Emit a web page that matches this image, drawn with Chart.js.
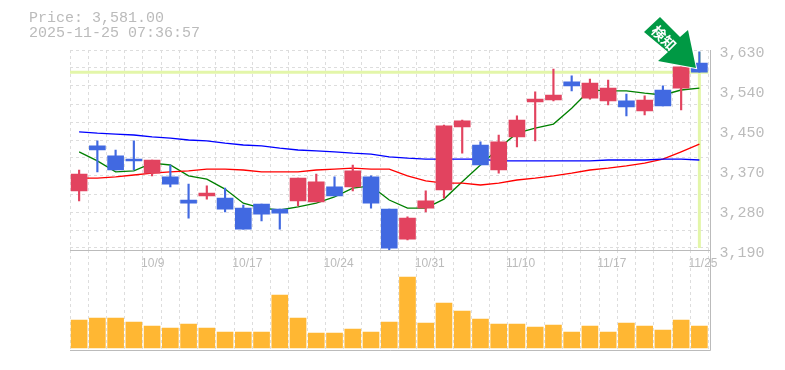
<!DOCTYPE html>
<html>
<head>
<meta charset="utf-8">
<script src="https://cdn.jsdelivr.net/npm/chart.js@4"></script>
<style>
  html, body { margin: 0; background: #fff; }
  #wrap { position: relative; width: 785px; height: 370px; overflow: hidden; }
  #volChart { position: absolute; left: 0; top: 250px; }
  #priceChart { position: absolute; left: 0; top: 0; }
</style>
</head>
<body>
<div id="wrap">
  <canvas id="volChart" width="785" height="101"></canvas>
  <canvas id="priceChart" width="785" height="270"></canvas>
</div>
<script>
// dates of the 35 sessions
const dates = ['10/3','10/6','10/7','10/8','10/9','10/10','10/14','10/15','10/16','10/17','10/20','10/21','10/22','10/23','10/24','10/27','10/28','10/29','10/30','10/31','11/4','11/5','11/6','11/7','11/10','11/11','11/12','11/13','11/14','11/17','11/18','11/19','11/20','11/21','11/25'];
const shownDates = ['10/9','10/17','10/24','10/31','11/10','11/17','11/25'];

// candles
const opens  = [3320,3419,3397,3390,3359,3351,3300,3309,3304,3282,3291,3280,3298,3296,3329,3329,3351,3280,3214,3282,3322,3461,3421,3366,3439,3516,3520,3560,3524,3518,3518,3496,3542,3546,3601];
const closes = [3357,3410,3366,3386,3388,3335,3293,3315,3280,3236,3269,3271,3348,3340,3309,3364,3293,3194,3260,3298,3463,3474,3377,3428,3476,3522,3531,3551,3557,3546,3505,3520,3507,3593,3581];
const highs  = [3366,3430,3410,3430,3388,3377,3335,3331,3326,3289,3291,3280,3348,3357,3351,3377,3353,3280,3263,3320,3465,3476,3428,3443,3485,3538,3588,3573,3566,3564,3533,3529,3551,3593,3626];
const lows   = [3298,3362,3366,3366,3353,3329,3260,3302,3274,3236,3254,3236,3287,3296,3309,3320,3282,3190,3212,3274,3304,3403,3377,3359,3417,3430,3518,3540,3522,3509,3485,3487,3507,3498,3581];

// moving averages
const maShort = [3406,3386,3362,3364,3381,3377,3353,3346,3324,3293,3282,3278,3285,3293,3307,3326,3331,3300,3282,3282,3302,3340,3377,3414,3447,3458,3467,3502,3542,3540,3540,3535,3531,3542,3546];
const maMid   = [3348,3348,3351,3355,3359,3362,3364,3368,3368,3366,3362,3362,3362,3366,3368,3370,3368,3368,3353,3342,3337,3337,3333,3337,3344,3348,3353,3359,3366,3370,3375,3381,3390,3406,3423];
const maLong  = [3450,3447,3445,3443,3439,3436,3432,3430,3425,3421,3419,3414,3410,3408,3406,3403,3401,3395,3392,3390,3390,3390,3390,3386,3386,3386,3386,3386,3386,3388,3388,3388,3390,3390,3388];

const volumes = [28000,30000,30000,26000,22000,20000,24000,20000,16000,16000,16000,53000,30000,15000,15000,19000,16000,26000,71000,25000,45000,37000,29000,24000,24000,21000,23000,16000,22000,16000,25000,22000,18000,28000,22000];

// axis ticks
const priceTickValues = [3630,3542,3454,3366,3278,3190];
const priceTickLabels = ['3,630','3,540','3,450','3,370','3,280','3,190'];
const gridValues = [3630,3590.4,3550.8,3511.2,3471.6,3432,3392.4,3352.8,3313.2,3273.6,3234,3194.4];

const lastPrice = 3581;
const headerLines = ['Price: 3,581.00','2025-11-25 07:36:57'];
const arrowLabel = '検知';

const UP = '#E2435F', DOWN = '#4169E1', GREY = '#BBBBBB', GRID = '#DDDDDD', MARK = '#E3F6A9';
const MONO = '"Liberation Mono", monospace';
const FRAME_RIGHT = 710.5;

const candleColor = ctx => closes[ctx.dataIndex] >= opens[ctx.dataIndex] ? UP : DOWN;

// the sessions stop a little short of the frame, so the frame is drawn by hand
const frame = {
    id: 'frame',
    afterDatasetsDraw(chart) {
        const { ctx, chartArea } = chart;
        ctx.save();
        ctx.strokeStyle = GREY;
        ctx.lineWidth = 1;
        ctx.beginPath();
        ctx.moveTo(chartArea.left, chartArea.bottom + 0.5);
        ctx.lineTo(FRAME_RIGHT, chartArea.bottom + 0.5);
        ctx.lineTo(FRAME_RIGHT, chartArea.top);
        ctx.stroke();
        ctx.restore();
    }
};

// light cross on the last price, under the candles
const priceMark = {
    id: 'priceMark',
    beforeDatasetsDraw(chart) {
        const { ctx, chartArea, scales } = chart;
        const y = scales.y.getPixelForValue(lastPrice);
        const x = scales.x.getPixelForValue(dates.length - 1);
        ctx.save();
        ctx.strokeStyle = MARK;
        ctx.lineWidth = 3;
        ctx.beginPath();
        ctx.moveTo(chartArea.left, y);
        ctx.lineTo(chartArea.right, y);
        ctx.stroke();
        ctx.beginPath();
        ctx.moveTo(x, scales.y.getPixelForValue(3626));
        ctx.lineTo(x, chartArea.bottom - 2);
        ctx.stroke();
        ctx.restore();
    }
};

// green arrow pointing at the last candle
const arrowMark = {
    id: 'arrowMark',
    afterDraw(chart) {
        const ctx = chart.ctx;
        const pts = [[660,17],[644,32],[668,52],[658,61],[696,68],[688,30],[680,37]];
        ctx.save();
        ctx.beginPath();
        pts.forEach((p, i) => i ? ctx.lineTo(p[0], p[1]) : ctx.moveTo(p[0], p[1]));
        ctx.closePath();
        ctx.strokeStyle = '#fff';
        ctx.lineWidth = 2;
        ctx.stroke();
        ctx.fillStyle = '#009944';
        ctx.fill();
        ctx.translate(664, 38);
        ctx.rotate(Math.PI / 4);
        ctx.fillStyle = '#fff';
        ctx.font = 'bold 14px "Noto Sans CJK JP"';
        ctx.textAlign = 'center';
        ctx.textBaseline = 'middle';
        ctx.fillText(arrowLabel, 0, 0);
        ctx.restore();
    }
};

new Chart(document.getElementById('priceChart'), {
    type: 'bar',
    data: {
        labels: dates,
        datasets: [
            { type: 'bar', grouped: false, data: opens.map((o, i) => [o, closes[i]]), backgroundColor: candleColor, barThickness: 16, order: 1 },
            { type: 'bar', grouped: false, data: lows.map((l, i) => [l, highs[i]]), backgroundColor: candleColor, barThickness: 1.5, order: 2 },
            { type: 'line', data: maLong, borderColor: '#0000FF', borderWidth: 1.3, pointRadius: 0, order: 3 },
            { type: 'line', data: maMid, borderColor: '#FF0000', borderWidth: 1.3, pointRadius: 0, order: 3 },
            { type: 'line', data: maShort, borderColor: '#008000', borderWidth: 1.3, pointRadius: 0, order: 3 }
        ]
    },
    options: {
        responsive: false,
        animation: false,
        events: [],
        layout: { autoPadding: false, padding: { left: 29, right: 0, top: 0, bottom: 0 } },
        plugins: {
            legend: { display: false },
            tooltip: { enabled: false },
            title: {
                display: true,
                align: 'start',
                text: headerLines,
                color: GREY,
                font: { family: MONO, size: 15, weight: 'normal', lineHeight: 1 },
                padding: { top: 11, bottom: 9 }
            }
        },
        scales: {
            x: {
                grid: { offset: true, color: GRID, drawTicks: false },
                border: { display: false, dash: [3, 3] },
                ticks: {
                    autoSkip: false,
                    maxRotation: 0,
                    align: 'start',
                    labelOffset: -11,
                    padding: 6,
                    color: GREY,
                    font: { family: '"Liberation Sans", sans-serif', size: 12 },
                    callback: (v, i) => shownDates.includes(dates[i]) ? dates[i] : ''
                },
                afterFit: s => { s.height = 20; }
            },
            y: {
                position: 'left',
                min: 3190,
                max: 3630,
                grid: { color: GRID, drawTicks: false },
                border: { display: false, dash: [3, 3] },
                ticks: { display: false },
                afterBuildTicks: s => { s.ticks = gridValues.map(v => ({ value: v })); },
                afterFit: s => { s.width = 41; }
            },
            yLabels: {
                position: 'right',
                min: 3190,
                max: 3630,
                grid: { display: false, drawTicks: false },
                border: { display: false },
                ticks: {
                    autoSkip: false,
                    color: GREY,
                    padding: 11,
                    labelOffset: 3,
                    font: { family: MONO, size: 15 },
                    callback: (v, i) => priceTickLabels[i]
                },
                afterBuildTicks: s => { s.ticks = priceTickValues.map(v => ({ value: v })); },
                afterFit: s => { s.width = 76.5; }
            }
        }
    },
    plugins: [priceMark, frame, arrowMark]
});

new Chart(document.getElementById('volChart'), {
    type: 'bar',
    data: {
        labels: dates,
        datasets: [{ data: volumes, backgroundColor: '#FFB733', barThickness: 16 }]
    },
    options: {
        responsive: false,
        animation: false,
        events: [],
        layout: { autoPadding: false, padding: { left: 70, right: 0, top: 0, bottom: 0 } },
        plugins: { legend: { display: false }, tooltip: { enabled: false } },
        scales: {
            x: {
                grid: { offset: true, color: GRID, drawTicks: false },
                border: { display: false, dash: [3, 3] },
                ticks: { display: false },
                afterFit: s => { s.height = 1; }
            },
            y: {
                position: 'right',
                min: -2000,
                max: 98000,
                grid: { display: false },
                border: { display: false },
                ticks: { display: false },
                afterFit: s => { s.width = 76.5; }
            }
        }
    },
    plugins: [frame]
});
</script>
</body>
</html>
